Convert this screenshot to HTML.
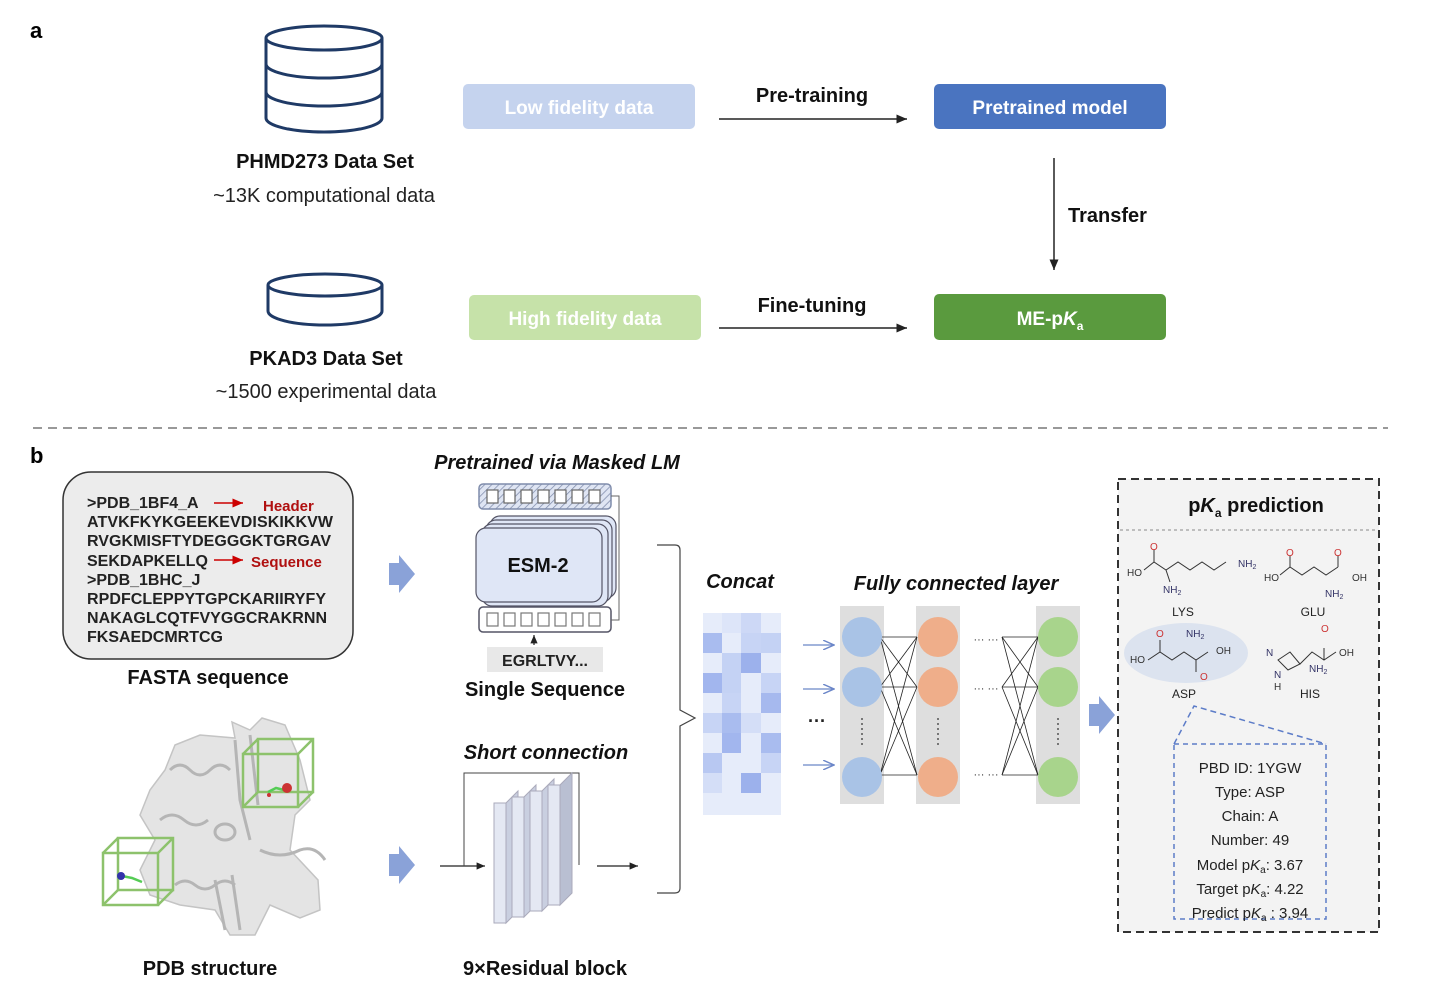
<!DOCTYPE html>
<html><head><meta charset="utf-8"><style>
body{margin:0;background:#fff}
svg{display:block;font-family:"Liberation Sans",Arial,sans-serif}
</style></head><body>
<svg width="1435" height="1001" viewBox="0 0 1435 1001" xmlns="http://www.w3.org/2000/svg">
<defs>
<marker id="ah" markerWidth="8" markerHeight="8" refX="7" refY="4" orient="auto"><path d="M0,1 L7,4 L0,7 z" fill="#222"/></marker>
<marker id="ahb" markerWidth="10" markerHeight="8" refX="9" refY="4" orient="auto"><path d="M0,0 L9,4 L0,8" fill="none" stroke="#6b86c8" stroke-width="1.2"/></marker>
<marker id="ahr" markerWidth="8" markerHeight="8" refX="7" refY="4" orient="auto"><path d="M0,1 L7,4 L0,7 z" fill="#c00"/></marker>
<pattern id="hatch" width="5" height="5" patternUnits="userSpaceOnUse" patternTransform="rotate(45)"><rect width="5" height="5" fill="#dfe5f3"/><line x1="0" y1="0" x2="0" y2="5" stroke="#7f8cab" stroke-width="1.5"/></pattern>
</defs>
<!-- a -->
<text x="30" y="38" font-size="22" font-weight="bold">a</text>
<g fill="none" stroke="#1f3a66" stroke-width="3">
<path d="M266,38 v80 a58,14 0 0 0 116,0 v-80"/>
<ellipse cx="324" cy="38" rx="58" ry="12"/>
<path d="M266,64 a58,14 0 0 0 116,0"/>
<path d="M266,92 a58,14 0 0 0 116,0"/>
<path d="M268,285 v26 a57,14 0 0 0 114,0 v-26"/>
<ellipse cx="325" cy="285" rx="57" ry="11"/>
</g>
<text x="325" y="168" font-size="20" font-weight="bold" text-anchor="middle" fill="#111">PHMD273 Data Set</text>
<text x="324" y="202" font-size="20" text-anchor="middle" fill="#222">~13K computational data</text>
<text x="326" y="365" font-size="20" font-weight="bold" text-anchor="middle" fill="#111">PKAD3 Data Set</text>
<text x="326" y="398" font-size="20" text-anchor="middle" fill="#222">~1500 experimental data</text>
<rect x="463" y="84" width="232" height="45" rx="5" fill="#c5d3ee"/>
<text x="579" y="114" font-size="19" font-weight="bold" text-anchor="middle" fill="#fff">Low fidelity data</text>
<rect x="469" y="295" width="232" height="45" rx="5" fill="#c6e2a9"/>
<text x="585" y="325" font-size="19" font-weight="bold" text-anchor="middle" fill="#fff">High fidelity data</text>
<rect x="934" y="84" width="232" height="45" rx="5" fill="#4a74c0"/>
<text x="1050" y="114" font-size="19" font-weight="bold" text-anchor="middle" fill="#fff">Pretrained model</text>
<rect x="934" y="294" width="232" height="46" rx="5" fill="#5a9a3e"/>
<text x="1050" y="325" font-size="19" font-weight="bold" text-anchor="middle" fill="#fff">ME-p<tspan font-style="italic">K</tspan><tspan font-size="12" dy="5">a</tspan></text>
<text x="812" y="102" font-size="20" font-weight="bold" text-anchor="middle" fill="#111">Pre-training</text>
<line x1="719" y1="119" x2="907" y2="119" stroke="#222" stroke-width="1.5" marker-end="url(#ah)"/>
<text x="812" y="312" font-size="20" font-weight="bold" text-anchor="middle" fill="#111">Fine-tuning</text>
<line x1="719" y1="328" x2="907" y2="328" stroke="#222" stroke-width="1.5" marker-end="url(#ah)"/>
<line x1="1054" y1="158" x2="1054" y2="270" stroke="#222" stroke-width="1.5" marker-end="url(#ah)"/>
<text x="1068" y="222" font-size="20" font-weight="bold" fill="#111">Transfer</text>
<line x1="33" y1="428" x2="1388" y2="428" stroke="#999" stroke-width="2" stroke-dasharray="9,6"/>
<!-- b -->
<text x="30" y="463" font-size="22" font-weight="bold">b</text>
<rect x="63" y="472" width="290" height="187" rx="28" fill="#ececec" stroke="#333" stroke-width="1.5"/>
<g font-size="16" font-weight="bold" fill="#222">
<text x="87" y="508">&gt;PDB_1BF4_A</text>
<text x="87" y="527" textLength="246">ATVKFKYKGEEKEVDISKIKKVW</text>
<text x="87" y="546" textLength="244">RVGKMISFTYDEGGGKTGRGAV</text>
<text x="87" y="566">SEKDAPKELLQ</text>
<text x="87" y="585">&gt;PDB_1BHC_J</text>
<text x="87" y="604" textLength="239">RPDFCLEPPYTGPCKARIIRYFY</text>
<text x="87" y="623" textLength="240">NAKAGLCQTFVYGGCRAKRNN</text>
<text x="87" y="642">FKSAEDCMRTCG</text>
</g>
<line x1="214" y1="503" x2="243" y2="503" stroke="#c00" stroke-width="1.5" marker-end="url(#ahr)"/>
<text x="263" y="511" font-size="15" font-weight="bold" fill="#b01010">Header</text>
<line x1="214" y1="560" x2="243" y2="560" stroke="#c00" stroke-width="1.5" marker-end="url(#ahr)"/>
<text x="251" y="567" font-size="15" font-weight="bold" fill="#b01010">Sequence</text>
<text x="208" y="684" font-size="20" font-weight="bold" text-anchor="middle" fill="#111">FASTA sequence</text>
<!-- protein -->
<path d="M175,745 L200,735 L235,738 L232,722 L250,730 L262,718 L285,725 L300,760 L310,800 L295,815 L290,850 L318,880 L320,910 L300,918 L270,905 L255,935 L230,935 L215,910 L180,905 L150,895 L140,870 L155,840 L140,815 L150,790 L165,770 Z" fill="#e4e4e4" stroke="#c4c4c4" stroke-width="1.5"/>
<g fill="none" stroke="#b5b5b5" stroke-width="3">
<path d="M170,770 q10,-10 20,0 q10,10 20,0 q10,-10 20,0"/>
<path d="M160,820 q12,-10 24,0 q12,10 24,0"/>
<path d="M215,832 a10,8 0 1 0 20,0 a10,8 0 1 0 -20,0"/>
<path d="M235,740 l5,60 l10,40 M250,735 l8,70"/>
<path d="M175,885 q10,-8 20,0 q10,8 20,0 q10,-8 20,0"/>
<path d="M215,880 l10,50 M232,875 l8,55"/>
<path d="M260,850 q20,10 40,0 q15,-5 25,10"/>
</g>
<g fill="none" stroke="#8dc26c" stroke-width="2.5">
<rect x="243" y="754" width="55" height="53"/><rect x="258" y="739" width="55" height="53"/>
<line x1="243" y1="754" x2="258" y2="739"/><line x1="298" y1="754" x2="313" y2="739"/><line x1="243" y1="807" x2="258" y2="792"/><line x1="298" y1="807" x2="313" y2="792"/>
<rect x="103" y="853" width="55" height="52"/><rect x="118" y="838" width="55" height="52"/>
<line x1="103" y1="853" x2="118" y2="838"/><line x1="158" y1="853" x2="173" y2="838"/><line x1="103" y1="905" x2="118" y2="890"/><line x1="158" y1="905" x2="173" y2="890"/>
</g>
<path d="M268,792 l8,-4 l8,2" stroke="#5c5" stroke-width="2.5" fill="none"/>
<circle cx="287" cy="788" r="5" fill="#c33"/><circle cx="269" cy="795" r="2" fill="#c33"/>
<path d="M122,876 l10,2 l10,4" stroke="#5c5" stroke-width="2.5" fill="none"/>
<circle cx="121" cy="876" r="4" fill="#33a"/>
<text x="210" y="975" font-size="20" font-weight="bold" text-anchor="middle" fill="#111">PDB structure</text>
<!-- big arrows -->
<path d="M389,563 h10 v-8 l16,19 l-16,19 v-8 h-10 z" fill="#8aa2d8"/>
<path d="M389,854 h10 v-8 l16,19 l-16,19 v-8 h-10 z" fill="#8aa2d8"/>
<path d="M1089,704 h10 v-8 l16,19 l-16,19 v-8 h-10 z" fill="#8aa2d8"/>
<!-- ESM -->
<text x="557" y="469" font-size="20" font-weight="bold" font-style="italic" text-anchor="middle" fill="#111">Pretrained via Masked LM</text>
<rect x="479" y="484" width="132" height="25" rx="4" fill="url(#hatch)" stroke="#7f8cab" stroke-width="1.5"/>
<g fill="#fff" stroke="#666" stroke-width="1.2">
<rect x="487" y="490" width="11" height="13"/><rect x="504" y="490" width="11" height="13"/><rect x="521" y="490" width="11" height="13"/><rect x="538" y="490" width="11" height="13"/><rect x="555" y="490" width="11" height="13"/><rect x="572" y="490" width="11" height="13"/><rect x="589" y="490" width="11" height="13"/>
</g>
<g stroke="#556" stroke-width="1.2" fill="#dfe6f6">
<rect x="490" y="516" width="126" height="82" rx="10"/>
<rect x="486" y="520" width="126" height="82" rx="10"/>
<rect x="482" y="524" width="126" height="82" rx="10"/>
<rect x="476" y="528" width="126" height="74" rx="10"/>
</g>
<text x="538" y="572" font-size="20" font-weight="bold" text-anchor="middle" fill="#111">ESM-2</text>
<rect x="479" y="607" width="132" height="25" rx="4" fill="#fff" stroke="#556" stroke-width="1.5"/>
<g fill="#fff" stroke="#777" stroke-width="1.2">
<rect x="487" y="613" width="11" height="13"/><rect x="504" y="613" width="11" height="13"/><rect x="521" y="613" width="11" height="13"/><rect x="538" y="613" width="11" height="13"/><rect x="555" y="613" width="11" height="13"/><rect x="572" y="613" width="11" height="13"/><rect x="589" y="613" width="11" height="13"/>
</g>
<path d="M611,496 h8 v124 h-8" fill="none" stroke="#666" stroke-width="1"/>
<line x1="534" y1="645" x2="534" y2="635" stroke="#222" stroke-width="1.2" marker-end="url(#ah)"/>
<rect x="487" y="647" width="116" height="25" fill="#e8e8e8"/>
<text x="545" y="666" font-size="16" font-weight="bold" text-anchor="middle" fill="#222">EGRLTVY...</text>
<text x="545" y="696" font-size="20" font-weight="bold" text-anchor="middle" fill="#111">Single Sequence</text>
<!-- residual -->
<text x="546" y="759" font-size="20" font-weight="bold" font-style="italic" text-anchor="middle" fill="#111">Short connection</text>
<path d="M440,866 h45" stroke="#222" stroke-width="1.2" marker-end="url(#ah)"/>
<path d="M464,866 v-93 h115 v92" fill="none" stroke="#444" stroke-width="1"/>
<line x1="597" y1="866" x2="638" y2="866" stroke="#222" stroke-width="1.2" marker-end="url(#ah)"/>
<g stroke="#aab" stroke-width="1">
<rect x="494" y="803" width="12" height="120" fill="#e4e8f3"/><path d="M506,803 l12,-12 v120 l-12,12 z" fill="#c9cfe0"/>
<rect x="512" y="797" width="12" height="120" fill="#e4e8f3"/><path d="M524,797 l12,-12 v120 l-12,12 z" fill="#c9cfe0"/>
<rect x="530" y="791" width="12" height="120" fill="#e4e8f3"/><path d="M542,791 l12,-12 v120 l-12,12 z" fill="#c9cfe0"/>
<rect x="548" y="785" width="12" height="120" fill="#e4e8f3"/><path d="M560,785 l12,-12 v120 l-12,12 z" fill="#b9bfd2"/>
</g>
<text x="545" y="975" font-size="20" font-weight="bold" text-anchor="middle" fill="#111">9×Residual block</text>
<!-- brace -->
<path d="M657,545 h18 q5,0 5,5 v160 l15,8 l-15,8 v162 q0,5 -5,5 h-18" fill="none" stroke="#444" stroke-width="1.2"/>
<!-- concat -->
<text x="740" y="588" font-size="20" font-weight="bold" font-style="italic" text-anchor="middle" fill="#111">Concat</text>
<g>
<rect x="703" y="613" width="78" height="202" fill="#e6ecfa"/>
<rect x="703" y="633" width="19" height="20" fill="#a9bcef"/><rect x="741" y="633" width="20" height="20" fill="#c7d4f5"/><rect x="761" y="633" width="20" height="20" fill="#c4d2f4"/>
<rect x="722" y="653" width="19" height="20" fill="#c4d2f4"/><rect x="741" y="653" width="20" height="20" fill="#9cb1ec"/>
<rect x="703" y="673" width="19" height="20" fill="#a2b6ee"/><rect x="722" y="673" width="19" height="20" fill="#c4d2f4"/><rect x="761" y="673" width="20" height="20" fill="#c7d4f5"/>
<rect x="722" y="693" width="19" height="20" fill="#c7d4f5"/><rect x="761" y="693" width="20" height="20" fill="#a6b9ee"/>
<rect x="703" y="713" width="19" height="20" fill="#c7d4f5"/><rect x="722" y="713" width="19" height="20" fill="#a9bcef"/><rect x="741" y="713" width="20" height="20" fill="#d4def7"/>
<rect x="722" y="733" width="19" height="20" fill="#a2b6ee"/><rect x="761" y="733" width="20" height="20" fill="#a9bcef"/>
<rect x="703" y="753" width="19" height="20" fill="#b8c8f2"/><rect x="761" y="753" width="20" height="20" fill="#c7d4f5"/>
<rect x="741" y="773" width="20" height="20" fill="#9cb1ec"/><rect x="703" y="773" width="19" height="20" fill="#d4def7"/>
<rect x="722" y="613" width="19" height="20" fill="#dde5f9"/><rect x="741" y="613" width="20" height="20" fill="#cdd8f6"/>
</g>
<g stroke="#6b86c8" stroke-width="1.2">
<line x1="803" y1="645" x2="834" y2="645" marker-end="url(#ahb)"/>
<line x1="803" y1="689" x2="834" y2="689" marker-end="url(#ahb)"/>
<line x1="803" y1="765" x2="834" y2="765" marker-end="url(#ahb)"/>
</g>
<text x="817" y="727" font-size="18" font-weight="bold" text-anchor="middle" fill="#222">···</text>
<!-- FC -->
<text x="956" y="590" font-size="20" font-weight="bold" font-style="italic" text-anchor="middle" fill="#111">Fully connected layer</text>
<rect x="840" y="606" width="44" height="198" fill="#dedede"/>
<rect x="916" y="606" width="44" height="198" fill="#dedede"/>
<rect x="1036" y="606" width="44" height="198" fill="#dedede"/>
<g stroke="#222" stroke-width="0.8">
<line x1="880" y1="637" x2="917" y2="637"/><line x1="880" y1="637" x2="917" y2="687"/><line x1="880" y1="637" x2="917" y2="775"/>
<line x1="880" y1="687" x2="917" y2="637"/><line x1="880" y1="687" x2="917" y2="687"/><line x1="880" y1="687" x2="917" y2="775"/>
<line x1="880" y1="775" x2="917" y2="637"/><line x1="880" y1="775" x2="917" y2="687"/><line x1="880" y1="775" x2="917" y2="775"/>
<line x1="1002" y1="637" x2="1038" y2="637"/><line x1="1002" y1="637" x2="1038" y2="687"/><line x1="1002" y1="637" x2="1038" y2="775"/>
<line x1="1002" y1="687" x2="1038" y2="637"/><line x1="1002" y1="687" x2="1038" y2="687"/><line x1="1002" y1="687" x2="1038" y2="775"/>
<line x1="1002" y1="775" x2="1038" y2="637"/><line x1="1002" y1="775" x2="1038" y2="687"/><line x1="1002" y1="775" x2="1038" y2="775"/>
</g>
<g fill="#a9c3e6"><circle cx="862" cy="637" r="20"/><circle cx="862" cy="687" r="20"/><circle cx="862" cy="777" r="20"/></g>
<g fill="#efae8a"><circle cx="938" cy="637" r="20"/><circle cx="938" cy="687" r="20"/><circle cx="938" cy="777" r="20"/></g>
<g fill="#a8d48c"><circle cx="1058" cy="637" r="20"/><circle cx="1058" cy="687" r="20"/><circle cx="1058" cy="777" r="20"/></g>
<g font-size="11" fill="#333" text-anchor="middle">
<text x="986" y="643">··· ···</text><text x="986" y="692">··· ···</text><text x="986" y="778">··· ···</text>
</g>
<g stroke="#555" stroke-width="1.5" stroke-dasharray="2,3"><line x1="862" y1="718" x2="862" y2="748"/><line x1="938" y1="718" x2="938" y2="748"/><line x1="1058" y1="718" x2="1058" y2="748"/></g>
<!-- pKa panel -->
<rect x="1118" y="479" width="261" height="453" fill="#f3f3f3" stroke="#333" stroke-width="2" stroke-dasharray="8,5"/>
<line x1="1120" y1="530" x2="1377" y2="530" stroke="#888" stroke-dasharray="3,3"/>
<text x="1256" y="512" font-size="20" font-weight="bold" text-anchor="middle" fill="#111">p<tspan font-style="italic">K</tspan><tspan font-size="12" dy="5">a</tspan><tspan dy="-5"> prediction</tspan></text>
<ellipse cx="1186" cy="653" rx="62" ry="30" fill="#dce3ef"/>
<g fill="none" stroke="#333" stroke-width="1">
<path d="M1144,570 l10,-8 l12,8 l12,-8 l12,8 l12,-8 l12,8 l12,-8"/><line x1="1154" y1="562" x2="1154" y2="550"/><line x1="1166" y1="570" x2="1170" y2="582"/>
<path d="M1280,575 l10,-8 l12,8 l12,-8 l12,8 l12,-8"/><line x1="1290" y1="567" x2="1290" y2="556"/><line x1="1338" y1="567" x2="1338" y2="556"/>
<path d="M1148,660 l12,-8 l12,8 l12,-8 l12,8 l12,-8"/><line x1="1160" y1="652" x2="1160" y2="640"/><line x1="1196" y1="660" x2="1196" y2="672"/>
<path d="M1278,660 l12,-8 l10,12 l-12,6 z"/><path d="M1300,664 l12,-12 l12,8 l12,-8"/><line x1="1324" y1="660" x2="1324" y2="648"/>
</g>
<g font-size="10" fill="#333">
<text x="1127" y="576">HO</text><text x="1238" y="567" fill="#336">NH<tspan font-size="7" dy="2">2</tspan></text><text x="1163" y="593" fill="#336">NH<tspan font-size="7" dy="2">2</tspan></text><text x="1150" y="550" fill="#c33">O</text>
<text x="1264" y="581">HO</text><text x="1352" y="581">OH</text><text x="1325" y="597" fill="#336">NH<tspan font-size="7" dy="2">2</tspan></text><text x="1286" y="556" fill="#c33">O</text><text x="1334" y="556" fill="#c33">O</text>
<text x="1130" y="663">HO</text><text x="1216" y="654">OH</text><text x="1186" y="637" fill="#336">NH<tspan font-size="7" dy="2">2</tspan></text><text x="1156" y="637" fill="#c33">O</text><text x="1200" y="680" fill="#c33">O</text>
<text x="1266" y="656" fill="#336">N</text><text x="1274" y="678" fill="#336">N</text><text x="1274" y="690">H</text><text x="1339" y="656">OH</text><text x="1309" y="672" fill="#336">NH<tspan font-size="7" dy="2">2</tspan></text><text x="1321" y="632" fill="#c33">O</text>
</g>
<g font-size="12" fill="#222" text-anchor="middle">
<text x="1183" y="616">LYS</text><text x="1313" y="616">GLU</text><text x="1184" y="698">ASP</text><text x="1310" y="698">HIS</text>
</g>
<path d="M1174,744 L1194,706 L1326,744" fill="none" stroke="#5c7cc8" stroke-width="1.5" stroke-dasharray="6,4"/>
<rect x="1174" y="744" width="152" height="175" fill="none" stroke="#5c7cc8" stroke-width="1.5" stroke-dasharray="5,4"/>
<g font-size="15" fill="#222" text-anchor="middle">
<text x="1250" y="773">PBD ID:  1YGW</text>
<text x="1250" y="797">Type: ASP</text>
<text x="1250" y="821">Chain: A</text>
<text x="1250" y="845">Number: 49</text>
<text x="1250" y="870">Model p<tspan font-style="italic">K</tspan><tspan font-size="10" dy="3">a</tspan><tspan dy="-3">: 3.67</tspan></text>
<text x="1250" y="894">Target p<tspan font-style="italic">K</tspan><tspan font-size="10" dy="3">a</tspan><tspan dy="-3">: 4.22</tspan></text>
<text x="1250" y="918">Predict p<tspan font-style="italic">K</tspan><tspan font-size="10" dy="3">a</tspan><tspan dy="-3"> : 3.94</tspan></text>
</g>
</svg>
</body></html>
